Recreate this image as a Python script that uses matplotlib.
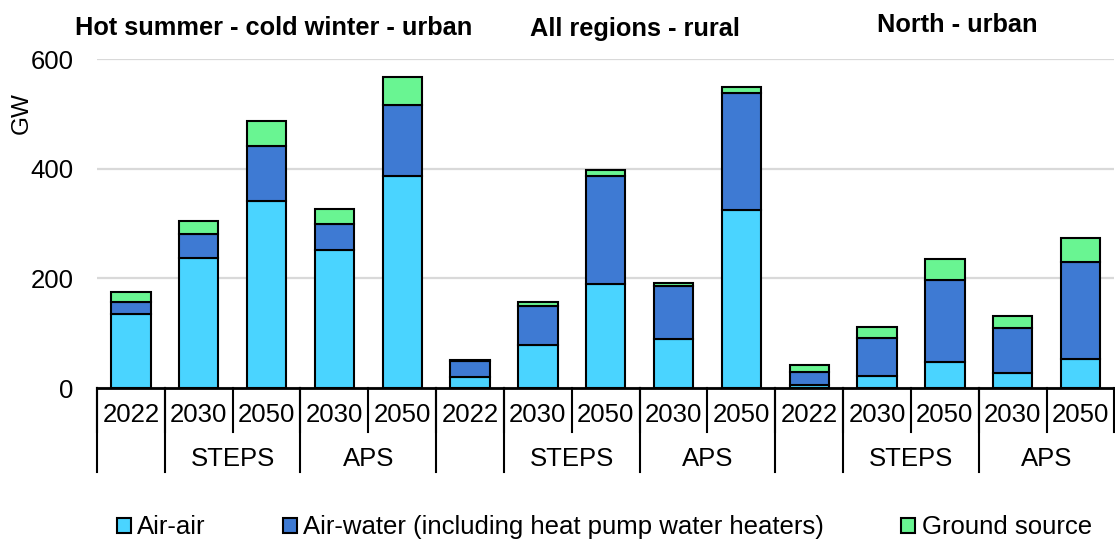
import numpy as np
import matplotlib.pyplot as plt

plt.rcParams['font.family'] = ['Liberation Sans', 'DejaVu Sans']

# data (GW)
regions = ["Hot summer - cold winter - urban", "All regions - rural", "North - urban"]
years = ["2022", "2030", "2050", "2030", "2050"] * 3
scenarios = ["", "STEPS", "APS"] * 3
air_air = [135, 238, 342, 252, 387,
           20, 79, 190, 89, 325,
           6, 22, 47, 27, 52]
air_water = [22, 43, 99, 48, 130,
             30, 71, 197, 97, 213,
             24, 69, 150, 83, 178]
ground = [18, 24, 46, 26, 51,
          1, 6, 11, 6, 11,
          12, 20, 38, 21, 43]
series = ["Air-air", "Air-water (including heat pump water heaters)", "Ground source"]
colors = ["#4AD4FF", "#3E7AD3", "#69F592"]

fig = plt.figure(figsize=(11.15, 5.41), dpi=100)
ax = fig.add_axes([0.087, 0.2828, 0.9125, 0.608])

x = np.arange(len(years))
bottom = np.zeros(len(years))
for vals, name, c in zip([air_air, air_water, ground], series, colors):
    ax.bar(x, vals, 0.58, bottom=bottom, color=c, edgecolor="black",
           linewidth=1.5, label=name, zorder=3)
    bottom += np.array(vals)

ax.set_xlim(-0.5, len(years) - 0.5)
ax.set_ylim(0, 600)
ax.set_yticks([0, 200, 400, 600])
ax.tick_params(axis="y", length=0, labelsize=18.5, pad=17)
ax.set_xticks([])
ax.grid(axis="y", color="#D9D9D9", linewidth=1.6, zorder=0)
for s in ["top", "right", "left"]:
    ax.spines[s].set_visible(False)
ax.spines["bottom"].set_linewidth(2)
ax.spines["bottom"].set_zorder(4)
ax.set_ylabel("GW", fontsize=17.5)
ax.yaxis.set_label_coords(-0.074, 0.836)
ax.yaxis.label.set_va("center")

# category axis (years / scenarios)
trans = ax.get_xaxis_transform()
for i, yr in enumerate(years):
    ax.text(i, -0.083, yr, transform=trans, ha="center", va="center", fontsize=18.5)
for b in np.arange(-0.5, len(years), 1.0):
    ax.plot([b, b], [0, -0.135], transform=trans, color="black", lw=1.5, clip_on=False)
for g in range(3):
    base = g * 5
    for b in [base - 0.5, base + 0.5, base + 2.5]:
        ax.plot([b, b], [0, -0.255], transform=trans, color="black", lw=1.5, clip_on=False)
    ax.text(base + 1.5, -0.217, "STEPS", transform=trans, ha="center", va="center", fontsize=18.5)
    ax.text(base + 3.5, -0.217, "APS", transform=trans, ha="center", va="center", fontsize=18.5)

# region titles
title_pos = [(274, 28), (635, 29), (957, 25)]
for name, (px, py) in zip(regions, title_pos):
    fig.text(px / 1115, 1 - py / 541, name, ha="center", va="center",
             fontsize=18.3, fontweight="bold")

fig.legend(loc="center", bbox_to_anchor=(0.542, 0.025), ncol=3, frameon=False,
           fontsize=18.5, handlelength=0.55, handleheight=0.55, handletextpad=0.25,
           columnspacing=3.0)

fig.savefig("out.png", dpi=100)
